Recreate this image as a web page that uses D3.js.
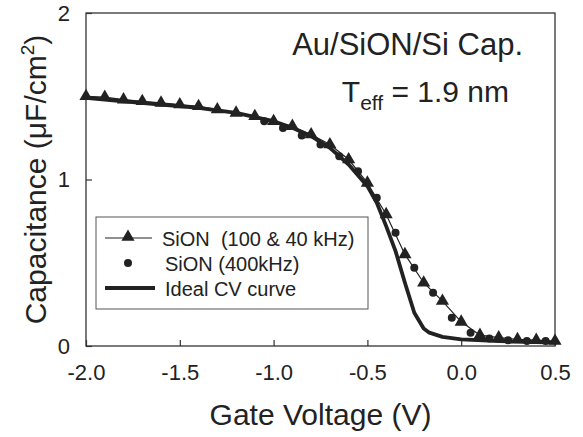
<!DOCTYPE html>
<html>
<head>
<meta charset="utf-8">
<script src="https://cdn.jsdelivr.net/npm/d3@7"></script>
<style>
    body { margin: 0; background: #fff; }
    text { font-family: "Liberation Sans", Arial, sans-serif; fill: #222; }
</style>
</head>
<body>
<svg id="chart"></svg>
<script>
'use strict';

// SiON (100 & 40 kHz) - triangles
const triVolts = [-2.0, -1.9, -1.8, -1.7, -1.6, -1.5, -1.4, -1.3, -1.2, -1.1, -1.0, -0.9, -0.8,
    -0.7, -0.6, -0.5, -0.4, -0.3, -0.2, -0.1, 0.0, 0.1, 0.2, 0.3, 0.4, 0.5];
const triCap = [1.50, 1.495, 1.48, 1.47, 1.46, 1.45, 1.44, 1.42, 1.40, 1.38, 1.35, 1.32, 1.27,
    1.21, 1.12, 0.98, 0.79, 0.55, 0.38, 0.27, 0.145, 0.065, 0.05, 0.04, 0.035, 0.03];

// SiON (400kHz) - dots
const dotVolts = [-1.05, -0.95, -0.85, -0.75, -0.65, -0.55, -0.45, -0.35, -0.25, -0.15, -0.05,
    0.05, 0.15, 0.25, 0.35, 0.45];
const dotCap = [1.35, 1.31, 1.265, 1.21, 1.14, 1.05, 0.89, 0.68, 0.47, 0.32, 0.17,
    0.08, 0.045, 0.035, 0.03, 0.03];

// ideal CV curve
const idealVolts = [-2.0, -1.8, -1.6, -1.4, -1.2, -1.0, -0.9, -0.8, -0.7, -0.6, -0.5, -0.45,
    -0.4, -0.35, -0.3, -0.25, -0.2, -0.17, -0.1, 0.0, 0.2, 0.5];
const idealCap = [1.49, 1.47, 1.45, 1.43, 1.40, 1.35, 1.31, 1.26, 1.19, 1.09, 0.96, 0.86,
    0.72, 0.57, 0.38, 0.20, 0.105, 0.08, 0.055, 0.04, 0.03, 0.02];

const xTicks = [-2.0, -1.5, -1.0, -0.5, 0.0, 0.5];
const xTickLabels = ["-2.0", "-1.5", "-1.0", "-0.5", "0.0", "0.5"];
const yTicks = [0, 1, 2];

const width = 583;
const height = 437;
const margin = {top: 13, right: 28, bottom: 91, left: 86};

var svg = d3.select("#chart")
    .attr("width", width)
    .attr("height", height);

var x = d3.scaleLinear().domain([-2, 0.5]).range([margin.left, width - margin.right]);
var y = d3.scaleLinear().domain([0, 2]).range([height - margin.bottom, margin.top]);

// frame
svg.append("rect")
    .attr("x", x(-2))
    .attr("y", y(2))
    .attr("width", x(0.5) - x(-2))
    .attr("height", y(0) - y(2))
    .attr("fill", "none")
    .attr("stroke", "#333")
    .attr("stroke-width", 1.3);

// axes, ticks inward
svg.append("g")
    .attr("transform", "translate(0," + y(0) + ")")
    .call(d3.axisBottom(x).tickValues(xTicks).tickSizeInner(-6).tickSizeOuter(0)
        .tickPadding(18).tickFormat(function (d, i) { return xTickLabels[i]; }))
    .call(function (g) {
        g.select(".domain").remove();
        g.selectAll("line").attr("stroke", "#333").attr("stroke-width", 1.2);
        g.selectAll("text").attr("font-size", 22).attr("fill", "#222")
            .attr("font-family", '"Liberation Sans", Arial, sans-serif');
    });

svg.append("g")
    .attr("transform", "translate(" + x(-2) + ",0)")
    .call(d3.axisLeft(y).tickValues(yTicks).tickSizeInner(-6).tickSizeOuter(0)
        .tickPadding(16).tickFormat(d3.format("d")))
    .call(function (g) {
        g.select(".domain").remove();
        g.selectAll("line").attr("stroke", "#333").attr("stroke-width", 1.2);
        g.selectAll("text").attr("font-size", 22).attr("fill", "#222")
            .attr("font-family", '"Liberation Sans", Arial, sans-serif');
    });

// axis titles
svg.append("text")
    .attr("x", x(-0.75))
    .attr("y", 425)
    .attr("text-anchor", "middle")
    .attr("font-size", 30)
    .text("Gate Voltage (V)");

var yLabel = svg.append("text")
    .attr("transform", "translate(46," + y(1) + ") rotate(-90)")
    .attr("text-anchor", "middle")
    .attr("font-size", 30);
yLabel.append("tspan").text("Capacitance (\u03bcF/cm");
yLabel.append("tspan").attr("font-size", 19).attr("dy", -12).text("2");
yLabel.append("tspan").attr("dy", 12).text(")");

// annotation
svg.append("text")
    .attr("x", 523)
    .attr("y", 55)
    .attr("text-anchor", "end")
    .attr("font-size", 31)
    .text("Au/SiON/Si Cap.");

var teff = svg.append("text")
    .attr("x", 509)
    .attr("y", 102)
    .attr("text-anchor", "end")
    .attr("font-size", 30);
teff.append("tspan").text("T");
teff.append("tspan").attr("font-size", 21).attr("dy", 8).text("eff");
teff.append("tspan").attr("dy", -8).text(" = 1.9 nm");

// data
var idealData = d3.zip(idealVolts, idealCap);
var triData = d3.zip(triVolts, triCap);
var dotData = d3.zip(dotVolts, dotCap);

var line = d3.line()
    .x(function (d) { return x(d[0]); })
    .y(function (d) { return y(d[1]); });

svg.append("path")
    .datum(idealData)
    .attr("d", line)
    .attr("fill", "none")
    .attr("stroke", "#222")
    .attr("stroke-width", 3.8)
    .attr("stroke-linejoin", "round");

svg.append("path")
    .datum(triData)
    .attr("d", line)
    .attr("fill", "none")
    .attr("stroke", "#222")
    .attr("stroke-width", 1.2);

svg.selectAll(".dot")
    .data(dotData)
    .enter()
    .append("circle")
    .attr("class", "dot")
    .attr("cx", function (d) { return x(d[0]); })
    .attr("cy", function (d) { return y(d[1]); })
    .attr("r", 4)
    .attr("fill", "#222");

var triangle = d3.symbol().type(d3.symbolTriangle).size(75);

svg.selectAll(".tri")
    .data(triData)
    .enter()
    .append("path")
    .attr("class", "tri")
    .attr("d", triangle)
    .attr("transform", function (d) { return "translate(" + x(d[0]) + "," + y(d[1]) + ")"; })
    .attr("fill", "#222");

// legend
var legend = svg.append("g");
legend.append("rect")
    .attr("x", 96)
    .attr("y", 217)
    .attr("width", 272)
    .attr("height", 92)
    .attr("fill", "#fff")
    .attr("stroke", "#555")
    .attr("stroke-width", 1);

legend.append("line")
    .attr("x1", 105).attr("x2", 152).attr("y1", 238).attr("y2", 238)
    .attr("stroke", "#222").attr("stroke-width", 1.2);
legend.append("path")
    .attr("d", triangle)
    .attr("transform", "translate(128,237)")
    .attr("fill", "#222");
legend.append("text")
    .attr("x", 162).attr("y", 246)
    .attr("font-size", 20)
    .attr("xml:space", "preserve")
    .text("SiON  (100 & 40 kHz)");

legend.append("circle")
    .attr("cx", 128).attr("cy", 263).attr("r", 4)
    .attr("fill", "#222");
legend.append("text")
    .attr("x", 165).attr("y", 271)
    .attr("font-size", 20)
    .text("SiON (400kHz)");

legend.append("line")
    .attr("x1", 105).attr("x2", 155).attr("y1", 288).attr("y2", 288)
    .attr("stroke", "#222").attr("stroke-width", 3.8);
legend.append("text")
    .attr("x", 165).attr("y", 296)
    .attr("font-size", 20)
    .text("Ideal CV curve");
</script>
</body>
</html>
